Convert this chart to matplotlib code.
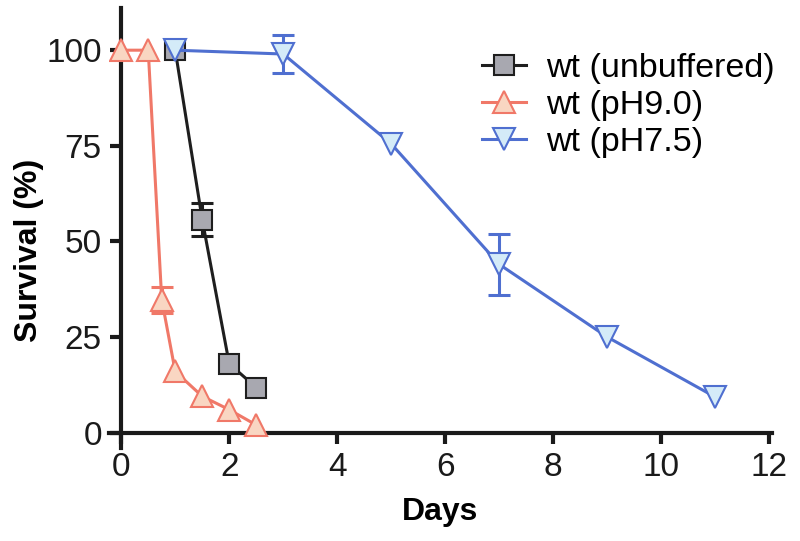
import matplotlib
matplotlib.use("Agg")
import matplotlib.pyplot as plt
import numpy as np

plt.rcParams['font.family'] = ['Liberation Sans', 'DejaVu Sans']

# Data
days_unbuf = [1, 1.5, 2, 2.5]
surv_unbuf = [100, 55.7, 18, 11.8]
err_unbuf = [0, 4.3, 0, 0]

days_ph9 = [0, 0.5, 0.75, 1, 1.5, 2, 2.5]
surv_ph9 = [100, 100, 34.8, 16, 9.5, 6, 2]
err_ph9 = [0, 0, 3.4, 0, 0, 0, 0]

days_ph75 = [1, 3, 5, 7, 9, 11]
surv_ph75 = [100, 99, 75.5, 44, 25, 9.3]
err_ph75 = [0, 5, 0, 8, 0, 0]

labels = ["wt (unbuffered)", "wt (pH9.0)", "wt (pH7.5)"]
xticks = [0, 2, 4, 6, 8, 10, 12]
yticks = [0, 25, 50, 75, 100]

fig = plt.figure(figsize=(8, 5.41), dpi=100)
ax = fig.add_axes([0.136, 0.172, 0.829, 0.813])

series = [
    (days_unbuf, surv_unbuf, err_unbuf, 's', '#1e1e1e', '#a8a8b0', 14),
    (days_ph9, surv_ph9, err_ph9, '^', '#f07868', '#f9d6c2', 16),
    (days_ph75, surv_ph75, err_ph75, 'v', '#4f6fd0', '#d4ebf8', 16),
]
handles = []
for z, ((x, y, e, m, lc, fc, ms), lab) in enumerate(zip(series, labels)):
    x = np.array(x, dtype=float)
    y = np.array(y, dtype=float)
    e = np.array(e, dtype=float)
    mask = e > 0
    ax.errorbar(x[mask], y[mask], yerr=e[mask], fmt='none', ecolor=lc,
                elinewidth=2.2, capsize=8, capthick=2.2, zorder=2 + z)
    h, = ax.plot(x, y, color=lc, lw=2.2, marker=m, ms=ms, mfc=fc, mec=lc,
                 mew=1.5, label=lab, zorder=2 + z)
    handles.append(h)

ax.set_xlim(-0.23, 12.05)
ax.set_ylim(-4, 111)
ax.spines['left'].set_position(('data', 0))
ax.spines['bottom'].set_position(('data', 0))
ax.spines['right'].set_visible(False)
ax.spines['top'].set_visible(False)
for s in ['left', 'bottom']:
    ax.spines[s].set_linewidth(3)
    ax.spines[s].set_color('#1a1a1a')
ax.set_xticks(xticks)
ax.set_yticks(yticks)
ax.tick_params(axis='both', which='major', direction='out', length=8, width=3,
               labelsize=24, colors='#1a1a1a', pad=6)

ax.set_xlabel('Days', fontsize=23, fontweight='bold', labelpad=10)
ax.set_ylabel('Survival (%)', fontsize=23, fontweight='bold')
ax.yaxis.set_label_coords(-0.098, 0.45)

leg = ax.legend(handles=handles, loc='upper right', bbox_to_anchor=(1.025, 0.93),
                frameon=False, fontsize=24.5, handlelength=1.3,
                handletextpad=0.6, labelspacing=0.18, borderaxespad=0)

fig.savefig('out.png', dpi=100)
